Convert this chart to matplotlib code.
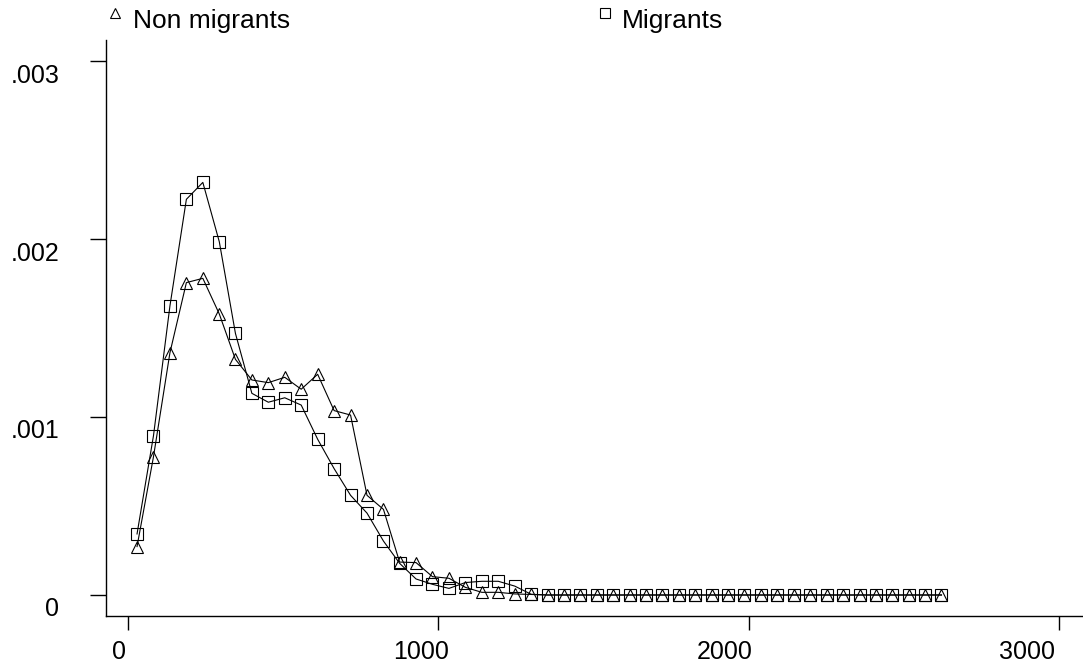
import matplotlib
matplotlib.use("Agg")
import matplotlib.pyplot as plt
from matplotlib.lines import Line2D
from matplotlib.transforms import ScaledTranslation

plt.rcParams['font.family'] = ['Liberation Sans', 'DejaVu Sans']

# evaluation grid (x) and the two density curves
x_vals = [29, 82, 135, 188, 241, 294, 346, 399, 452, 505,
          558, 611, 664, 717, 770, 823, 875, 928, 981, 1034,
          1087, 1140, 1193, 1246, 1299, 1352, 1404, 1457, 1510, 1563,
          1616, 1669, 1722, 1775, 1828, 1881, 1933, 1986, 2039, 2092,
          2145, 2198, 2251, 2304, 2357, 2410, 2462, 2515, 2568, 2621]

non_migrants = [0.000272, 0.000777, 0.001361, 0.001755, 0.001779, 0.001579,
                0.001324, 0.001208, 0.001193, 0.001223, 0.001156, 0.001240,
                0.001036, 0.001011, 0.000560, 0.000481, 0.000185, 0.000182,
                0.000103, 0.000094, 0.000043, 0.000015, 0.000015, 0.000006,
                0.000003] + [0.0] * 25

migrants = [0.000343, 0.000895, 0.001624, 0.002223, 0.002318, 0.001985,
            0.001470, 0.001133, 0.001083, 0.001108, 0.001067, 0.000875,
            0.000710, 0.000560, 0.000460, 0.000303, 0.000178, 0.000090,
            0.000060, 0.000037, 0.000070, 0.000077, 0.000077, 0.000050,
            0.000004] + [0.0] * 25

x_ticks = [0, 1000, 2000, 3000]
y_ticks = [0, 0.001, 0.002, 0.003]
y_labels = ["0", ".001", ".002", ".003"]
legend_labels = ["Non migrants", "Migrants"]

W, H = 1083, 663
fig = plt.figure(figsize=(W / 100, H / 100), dpi=100)
ax = fig.add_axes([106 / W, 47 / H, (W - 106) / W, 576 / H])

ax.plot(x_vals, non_migrants, color="black", lw=0.8, marker="^", ms=9,
        mfc="none", mec="black", mew=0.8)
ax.plot(x_vals, migrants, color="black", lw=0.8, marker="s", ms=9,
        mfc="none", mec="black", mew=0.8)

ax.set_xlim(-71, 3077)
ax.set_ylim(-0.000118, 0.003118)
ax.set_xticks(x_ticks)
ax.set_xticklabels([str(t) for t in x_ticks])
ax.set_yticks(y_ticks)
ax.set_yticklabels(y_labels)

for s in ["top", "right"]:
    ax.spines[s].set_visible(False)
for s in ["left", "bottom"]:
    ax.spines[s].set_linewidth(1.0)

ax.tick_params(axis="y", direction="out", length=11.5, width=1.0, pad=22,
               labelsize=18)
ax.tick_params(axis="x", direction="out", length=10, width=1.0, pad=7,
               labelsize=18)

# Stata-like label placement quirks
for lab in ax.get_yticklabels():
    lab.set_transform(lab.get_transform() +
                      ScaledTranslation(0, -12 / 100, fig.dpi_scale_trans))
x_shift = [-9, -17, -24, -32]
for lab, dx in zip(ax.get_xticklabels(), x_shift):
    lab.set_transform(lab.get_transform() +
                      ScaledTranslation(dx / 100, 0, fig.dpi_scale_trans))

# legend at the top
fig.add_artist(Line2D([115 / W], [1 - 13 / H], transform=fig.transFigure,
                      marker="^", ms=6.5, mfc="none", mec="black", mew=0.8,
                      ls="none"))
fig.text(133 / W, 1 - 28 / H, legend_labels[0], fontsize=19, va="baseline")
fig.add_artist(Line2D([605 / W], [1 - 13 / H], transform=fig.transFigure,
                      marker="s", ms=7, mfc="none", mec="black", mew=0.8,
                      ls="none"))
fig.text(622 / W, 1 - 28 / H, legend_labels[1], fontsize=19, va="baseline")

fig.savefig("out.png", dpi=100)
